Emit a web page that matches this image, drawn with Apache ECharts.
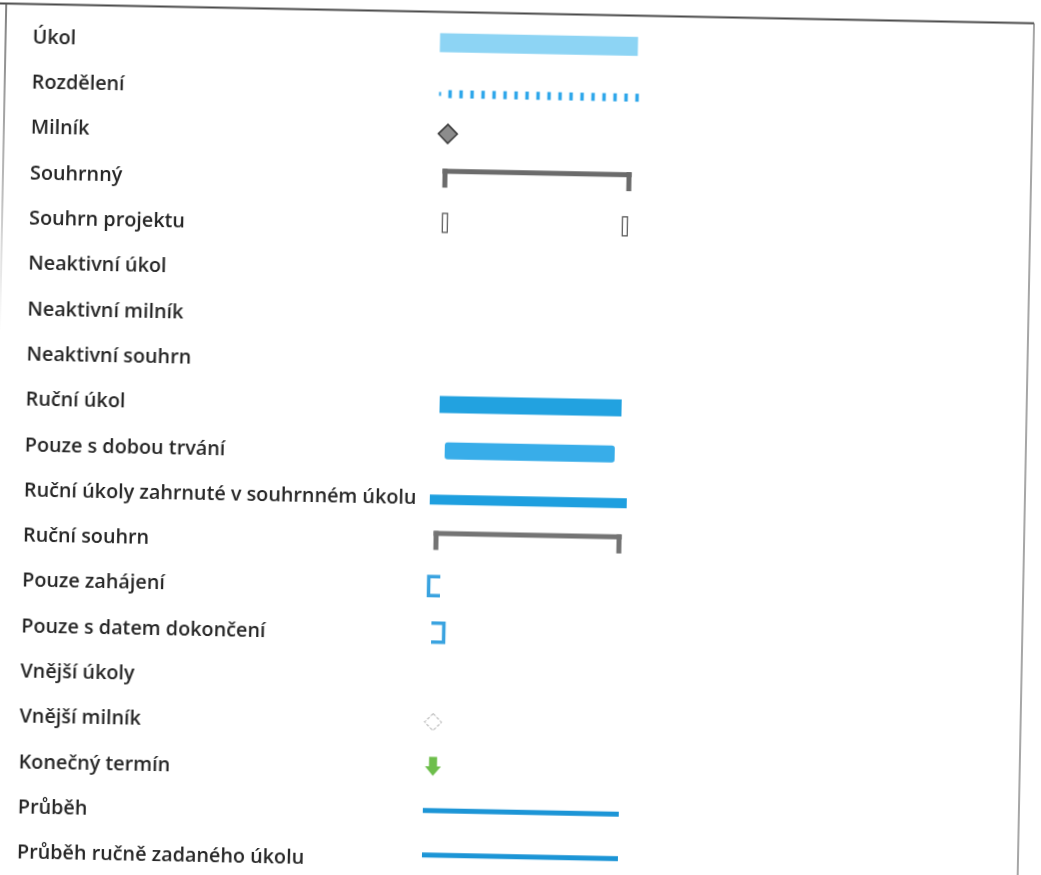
<!DOCTYPE html>
<html>
<head>
<meta charset="utf-8">
<title>Legenda</title>
<script src="https://cdn.jsdelivr.net/npm/echarts@6/dist/echarts.min.js"></script>
<style>
  html, body { margin: 0; padding: 0; background: #fff; overflow: hidden; width: 1041px; height: 875px; }
  /* naskenovaná stránka je mírně pootočená */
  #chart { position: absolute; left: -40px; top: -40px; width: 1121px; height: 955px; transform: rotate(1.1deg); }
</style>
</head>
<body>
<div id="chart"></div>
<script>
// popisky legendy
var legendLabels = [
  'Úkol', 'Rozdělení', 'Milník', 'Souhrnný', 'Souhrn projektu',
  'Neaktivní úkol', 'Neaktivní milník', 'Neaktivní souhrn',
  'Ruční úkol', 'Pouze s dobou trvání', 'Ruční úkoly zahrnuté v souhrnném úkolu',
  'Ruční souhrn', 'Pouze zahájení', 'Pouze s datem dokončení', 'Vnější úkoly',
  'Vnější milník', 'Konečný termín', 'Průběh', 'Průběh ručně zadaného úkolu'
];
// typ značky u každého řádku (null = bez značky)
var symbolKinds = [
  'task', 'split', 'milestone', 'summary', 'projectSummary',
  null, null, null,
  'manualTask', 'durationOnly', 'manualRollup',
  'manualSummary', 'startOnly', 'finishOnly', null,
  'externalMilestone', 'deadline', 'progress', 'manualProgress'
];
// začátek a konec značky na ose x
var symbolStart = [12.4, 12.5, 22, 20, 20.8, null, null, null, 19, 25, 11, 18, 10, 15, null, 18.5, 19.3, 10, 10];
var symbolEnd = [210.4, 210.5, 22, 204, 200.8, null, null, null, 201, 195, 208, 201, 23, 29, null, 18.5, 19.3, 206, 206];

var chart = echarts.init(document.getElementById('chart'));

var seriesData = [];
for (var i = 0; i < legendLabels.length; i++) {
  if (symbolKinds[i]) {
    seriesData.push([symbolStart[i], symbolEnd[i], i]);
  }
}

function diamond(cx, cy, r) {
  return [[cx, cy - r], [cx + r, cy], [cx, cy + r], [cx - r, cy]];
}

function bracketSummary(x0, x1, yc, color) {
  // vodorovná čára s koncovými zarážkami
  return {
    type: 'group',
    children: [
      { type: 'rect', shape: { x: x0 - 2.5, y: yc - 13, width: x1 - x0 + 5, height: 5 }, style: { fill: color } },
      { type: 'rect', shape: { x: x0 - 2.5, y: yc - 13, width: 5, height: 19 }, style: { fill: color } },
      { type: 'rect', shape: { x: x1 - 2.5, y: yc - 13, width: 5, height: 19 }, style: { fill: color } }
    ]
  };
}

function renderItem(params, api) {
  var row = api.value(2);
  var kind = symbolKinds[row];
  var p0 = api.coord([api.value(0), row]);
  var p1 = api.coord([api.value(1), row]);
  var x0 = p0[0], x1 = p1[0], yc = p0[1];

  switch (kind) {
    case 'task':
      return { type: 'rect', shape: { x: x0, y: yc - 3 - 9.5, width: x1 - x0, height: 19 }, style: { fill: '#8DD4F4' } };
    case 'split':
      var dots = [{ type: 'rect', shape: { x: x0, y: yc + 1, width: 2, height: 4 }, style: { fill: '#2FA7EA' } }];
      for (var x = x0 + 11; x <= x1; x += 11) {
        dots.push({ type: 'rect', shape: { x: x - 1.75, y: yc + 3 - 4, width: 3.5, height: 8 }, style: { fill: '#2FA7EA' } });
      }
      return { type: 'group', children: dots };
    case 'milestone':
      return { type: 'polygon', shape: { points: diamond(x0, yc - 2.5, 9.5) }, style: { fill: '#8C8C8C', stroke: '#3a3a3a', lineWidth: 1.5 } };
    case 'summary':
      return bracketSummary(x0, x1, yc, '#6B6B6B');
    case 'projectSummary':
      return {
        type: 'group',
        children: [
          { type: 'rect', shape: { x: x0 - 2.5, y: yc - 4 - 9.5, width: 5, height: 19 }, style: { fill: '#fff', stroke: '#555', lineWidth: 1.2 } },
          { type: 'rect', shape: { x: x1 - 2.5, y: yc - 4 - 9.5, width: 5, height: 19 }, style: { fill: '#fff', stroke: '#555', lineWidth: 1.2 } }
        ]
      };
    case 'manualTask':
      return { type: 'rect', shape: { x: x0, y: yc - 3.7 - 8.5, width: x1 - x0, height: 17 }, style: { fill: '#22A2E0' } };
    case 'durationOnly':
      return { type: 'rect', shape: { x: x0, y: yc - 2.6 - 8.5, width: x1 - x0, height: 17, r: 3 }, style: { fill: '#38ADE9' } };
    case 'manualRollup':
      return { type: 'rect', shape: { x: x0, y: yc + 1 - 5, width: x1 - x0, height: 10 }, style: { fill: '#1E9FDF' } };
    case 'manualSummary':
      return bracketSummary(x0, x1, yc, '#747474');
    case 'startOnly':
      return {
        type: 'polyline',
        shape: { points: [[x1, yc - 12.5], [x0 + 1.5, yc - 12.5], [x0 + 1.5, yc + 6.5], [x1, yc + 6.5]] },
        style: { stroke: '#3AA3E0', lineWidth: 3.5, fill: null }
      };
    case 'finishOnly':
      return {
        type: 'polyline',
        shape: { points: [[x0, yc - 11.5], [x1 - 1.5, yc - 11.5], [x1 - 1.5, yc + 7.5], [x0, yc + 7.5]] },
        style: { stroke: '#3AA3E0', lineWidth: 3.5, fill: null }
      };
    case 'externalMilestone':
      return { type: 'polygon', shape: { points: diamond(x0, yc - 3, 8.5) }, style: { fill: '#fff', stroke: '#8a8a8a', lineWidth: 1, lineDash: [3, 2] } };
    case 'deadline':
      var cy = yc - 4;
      return {
        type: 'polygon',
        shape: {
          points: [
            [x0 - 4, cy - 9.5], [x0 + 4, cy - 9.5], [x0 + 4, cy], [x0 + 8, cy],
            [x0, cy + 9.5], [x0 - 8, cy], [x0 - 4, cy]
          ]
        },
        style: { fill: '#6DBE4B' }
      };
    case 'progress':
      return { type: 'rect', shape: { x: x0, y: yc - 5 - 2.5, width: x1 - x0, height: 5 }, style: { fill: '#1C95D6' } };
    case 'manualProgress':
      return { type: 'rect', shape: { x: x0, y: yc - 6 - 2.5, width: x1 - x0, height: 5 }, style: { fill: '#1C95D6' } };
  }
  return null;
}

var option = {
  backgroundColor: '#fff',
  animation: false,
  grid: {
    left: 460,
    top: 64.6,
    width: 220,
    height: 860.7
  },
  xAxis: {
    type: 'value',
    min: 0,
    max: 220,
    show: false
  },
  yAxis: {
    type: 'category',
    inverse: true,
    data: legendLabels,
    axisLine: { show: false },
    axisTick: { show: false },
    splitLine: { show: false },
    axisLabel: {
      align: 'left',
      margin: 395,
      color: '#262626',
      fontFamily: 'Open Sans',
      fontWeight: 600,
      fontSize: 19.8
    }
  },
  // rámeček naskenované stránky
  graphic: [
    { type: 'line', shape: { x1: 0, y1: 53.5, x2: 1066, y2: 53.5 }, style: { stroke: '#4a4a4a', lineWidth: 2 } },
    { type: 'line', shape: { x1: 1066, y1: 53.5, x2: 1066, y2: 955 }, style: { stroke: '#777', lineWidth: 1.3 } },
    {
      type: 'line', shape: { x1: 38, y1: 53.5, x2: 38, y2: 380 },
      style: {
        lineWidth: 1.5,
        stroke: {
          type: 'linear', x: 0, y: 0, x2: 0, y2: 1,
          colorStops: [{ offset: 0, color: '#555' }, { offset: 0.6, color: '#aaa' }, { offset: 1, color: 'rgba(200,200,200,0)' }]
        }
      }
    }
  ],
  series: [{
    type: 'custom',
    renderItem: renderItem,
    encode: { x: [0, 1], y: 2 },
    data: seriesData
  }]
};

chart.setOption(option);
</script>
</body>
</html>
